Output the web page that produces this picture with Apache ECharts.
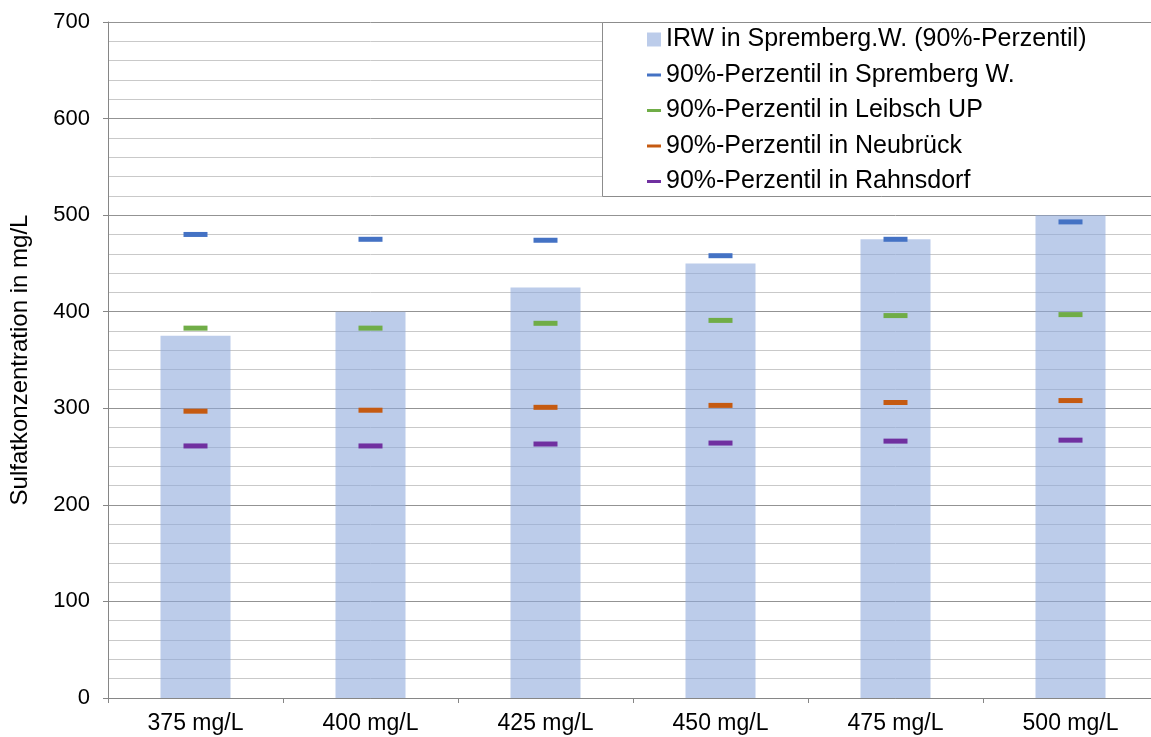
<!DOCTYPE html>
<html>
<head>
<meta charset="utf-8">
<style>
  html, body { margin: 0; padding: 0; background: #fff; overflow: hidden; }
  /* plot area runs slightly past the right window edge */
  #chart { width: 1160px; height: 737px; }
</style>
<script src="https://cdn.jsdelivr.net/npm/echarts@6/dist/echarts.min.js"></script>
</head>
<body>
<div id="chart"></div>
<script>
// Sulfate limit scenarios (x) and resulting 90th percentiles at each gauge
const categories = ['375 mg/L', '400 mg/L', '425 mg/L', '450 mg/L', '475 mg/L', '500 mg/L'];
const irwSpremberg = [375, 400, 425, 450, 475, 500];
const p90Spremberg = [480, 475, 474, 458, 475, 493];
const p90Leibsch = [383, 383, 388, 391, 396, 397];
const p90Neubrueck = [297, 298, 301, 303, 306, 308];
const p90Rahnsdorf = [261, 261, 263, 264, 266, 267];
const yTicks = { min: 0, max: 700, step: 100 };

const FONT = "'Liberation Sans', Arial, sans-serif";
const AXIS_GRAY = '#868686';
const DASH_ICON = 'path://M0,0H14V3H0Z';

const chart = echarts.init(document.getElementById('chart'), null, { renderer: 'canvas' });

function dashSeries(name, data, color) {
  return {
    name: name,
    type: 'scatter',
    data: data,
    symbol: 'rect',
    symbolSize: [24, 5],
    itemStyle: { color: color, opacity: 1 },
    z: 5
  };
}

chart.setOption({
  animation: false,
  backgroundColor: '#ffffff',
  textStyle: { fontFamily: FONT },
  grid: { left: 108, top: 22, width: 1050, height: 676, containLabel: false },
  xAxis: {
    type: 'category',
    data: categories,
    axisLine: { show: true, lineStyle: { color: AXIS_GRAY, width: 1 } },
    axisTick: { show: true, length: 5, interval: 0, lineStyle: { color: AXIS_GRAY } },
    axisLabel: { color: '#000', fontSize: 23, fontFamily: FONT, margin: 14, interval: 0 },
    splitLine: { show: false }
  },
  yAxis: {
    type: 'value',
    min: yTicks.min,
    max: yTicks.max,
    interval: yTicks.step,
    name: 'Sulfatkonzentration in mg/L',
    nameLocation: 'middle',
    nameGap: 76,
    nameTextStyle: { color: '#000', fontSize: 24, fontFamily: FONT },
    axisLine: { show: true, lineStyle: { color: AXIS_GRAY, width: 1 } },
    axisTick: { show: true, length: 5, lineStyle: { color: AXIS_GRAY } },
    axisLabel: { color: '#000', fontSize: 22, fontFamily: FONT, margin: 18 },
    splitLine: { show: true, lineStyle: { color: '#939393', width: 1 } },
    minorTick: { show: false, splitNumber: 5 },
    minorSplitLine: { show: true, lineStyle: { color: '#c9c9c9', width: 1 } }
  },
  legend: {
    orient: 'vertical',
    left: 647,
    top: 27,
    padding: 0,
    z: 10,
    itemWidth: 14,
    itemHeight: 14,
    itemGap: 10.5,
    selectedMode: false,
    textStyle: { color: '#000', fontSize: 25, fontFamily: FONT, lineHeight: 24 },
    data: [
      { name: 'IRW in Spremberg.W. (90%-Perzentil)', icon: 'rect' },
      { name: '90%-Perzentil in Spremberg W.', icon: DASH_ICON },
      { name: '90%-Perzentil in Leibsch UP', icon: DASH_ICON },
      { name: '90%-Perzentil in Neubrück', icon: DASH_ICON },
      { name: '90%-Perzentil in Rahnsdorf', icon: DASH_ICON }
    ]
  },
  graphic: [{
    type: 'rect',
    left: 602,
    top: 22,
    shape: { width: 570, height: 174 },
    style: { fill: '#ffffff', stroke: '#8c8c8c', lineWidth: 1 },
    z: 8
  }],
  series: [
    {
      name: 'IRW in Spremberg.W. (90%-Perzentil)',
      type: 'bar',
      data: irwSpremberg,
      barWidth: '40%',
      itemStyle: { color: 'rgba(143,170,220,0.6)' },
      z: 2
    },
    dashSeries('90%-Perzentil in Spremberg W.', p90Spremberg, '#4472c4'),
    dashSeries('90%-Perzentil in Leibsch UP', p90Leibsch, '#70ad47'),
    dashSeries('90%-Perzentil in Neubrück', p90Neubrueck, '#c55a11'),
    dashSeries('90%-Perzentil in Rahnsdorf', p90Rahnsdorf, '#7030a0')
  ]
});
</script>
</body>
</html>
